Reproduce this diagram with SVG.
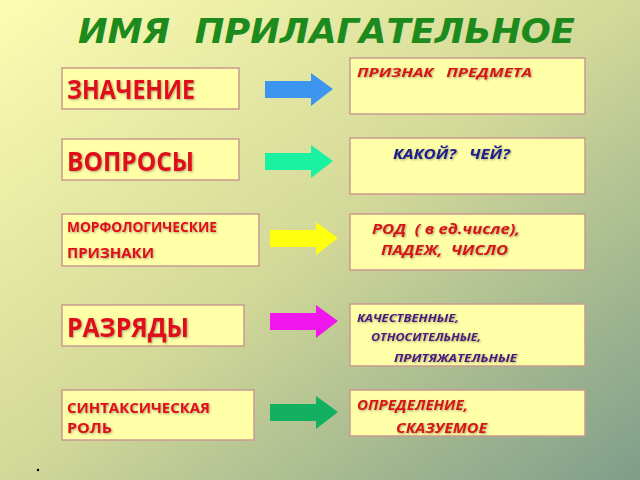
<svg xmlns="http://www.w3.org/2000/svg" width="640" height="480" viewBox="0 0 640 480">
<defs>
<linearGradient id="bg" x1="0" y1="0" x2="1" y2="1">
<stop offset="0" stop-color="#fdfdb2"/><stop offset="0.5" stop-color="#d2d898"/><stop offset="1" stop-color="#7e9e8a"/>
</linearGradient>
<filter id="sh" x="-5%" y="-20%" width="110%" height="140%"><feDropShadow dx="1" dy="1" stdDeviation="0.8" flood-color="#000" flood-opacity="0.35"/></filter>
</defs>
<style>
text{white-space:pre}
.box{fill:#ffffa8;stroke:#c89a90;stroke-width:1.5}
.l{font-family:"Open Sans","DejaVu Sans",sans-serif;font-weight:bold;fill:#e0101a;filter:url(#sh)}
.r{font-family:"Open Sans","DejaVu Sans",sans-serif;font-weight:bold;font-style:italic;filter:url(#sh)}
.red{fill:#d51818}.blue{fill:#1f1f8a}.purple{fill:#4a1a7a}
</style>
<rect width="640" height="480" fill="url(#bg)"/>
<text x="78" y="43" textLength="497" lengthAdjust="spacingAndGlyphs" font-family="'DejaVu Sans',sans-serif" font-weight="bold" font-style="italic" font-size="33" fill="#1d8a1d">ИМЯ  ПРИЛАГАТЕЛЬНОЕ</text>
<g id="n1"><rect class="box" x="62" y="68" width="177" height="41"/><text class="l" x="67" y="99" font-size="26" textLength="128" lengthAdjust="spacingAndGlyphs">ЗНАЧЕНИЕ</text></g>
<g id="n2"><rect class="box" x="62" y="139" width="177" height="41"/><text class="l" x="67" y="171" font-size="26" textLength="127" lengthAdjust="spacingAndGlyphs">ВОПРОСЫ</text></g>
<g id="n3"><rect class="box" x="62" y="214" width="197" height="52"/><text class="l" x="67" y="232" font-size="14" textLength="150" lengthAdjust="spacingAndGlyphs">МОРФОЛОГИЧЕСКИЕ</text><text class="l" x="67" y="258" font-size="14" textLength="87" lengthAdjust="spacingAndGlyphs">ПРИЗНАКИ</text></g>
<g id="n4"><rect class="box" x="62" y="305" width="182" height="41"/><text class="l" x="67" y="337" font-size="26" textLength="122" lengthAdjust="spacingAndGlyphs">РАЗРЯДЫ</text></g>
<g id="n5"><rect class="box" x="62" y="390" width="192" height="50"/><text class="l" x="67" y="413" font-size="15" textLength="143" lengthAdjust="spacingAndGlyphs">СИНТАКСИЧЕСКАЯ</text><text class="l" x="67" y="433" font-size="15" textLength="45" lengthAdjust="spacingAndGlyphs">РОЛЬ</text></g>
<g id="r1"><rect class="box" x="350" y="58" width="235" height="56"/><text class="r red" x="357" y="77" font-size="13" textLength="175" lengthAdjust="spacingAndGlyphs">ПРИЗНАК   ПРЕДМЕТА</text></g>
<g id="r2"><rect class="box" x="350" y="138" width="235" height="56"/><text class="r blue" x="393" y="159" font-size="13.5" textLength="117" lengthAdjust="spacingAndGlyphs">КАКОЙ?   ЧЕЙ?</text></g>
<g id="r3"><rect class="box" x="350" y="214" width="235" height="56"/><text class="r red" x="372" y="234" font-size="15" textLength="148" lengthAdjust="spacingAndGlyphs">РОД  ( в ед.числе),</text><text class="r red" x="381" y="255" font-size="15" textLength="127" lengthAdjust="spacingAndGlyphs">ПАДЕЖ,  ЧИСЛО</text></g>
<g id="r4"><rect class="box" x="350" y="304" width="235" height="62"/><text class="r purple" x="357" y="322" font-size="11" textLength="102" lengthAdjust="spacingAndGlyphs">КАЧЕСТВЕННЫЕ,</text><text class="r purple" x="371" y="341" font-size="11" textLength="110" lengthAdjust="spacingAndGlyphs">ОТНОСИТЕЛЬНЫЕ,</text><text class="r purple" x="394" y="362" font-size="11" textLength="123" lengthAdjust="spacingAndGlyphs">ПРИТЯЖАТЕЛЬНЫЕ</text></g>
<g id="r5"><rect class="box" x="350" y="390" width="235" height="46"/><text class="r red" x="357" y="410" font-size="13.5" textLength="111" lengthAdjust="spacingAndGlyphs">ОПРЕДЕЛЕНИЕ,</text><text class="r red" x="396" y="433" font-size="13.5" textLength="91" lengthAdjust="spacingAndGlyphs">СКАЗУЕМОЕ</text></g>
<g id="connectors">
<path d="M265 81h46v-8l22 16-22 17v-8h-46z" fill="#3d95f0"/>
<path d="M265 153h46v-8l22 16-22 17v-8h-46z" fill="#19f2a0"/>
<path d="M270 230h46v-8l22 16-22 17v-8h-46z" fill="#ffff10"/>
<path d="M270 313h46v-8l22 16-22 17v-8h-46z" fill="#f016ee"/>
<path d="M270 404h46v-8l22 16-22 17v-8h-46z" fill="#12b060"/>
</g>
<circle cx="38" cy="470" r="1.2" fill="#000"/>
</svg>
